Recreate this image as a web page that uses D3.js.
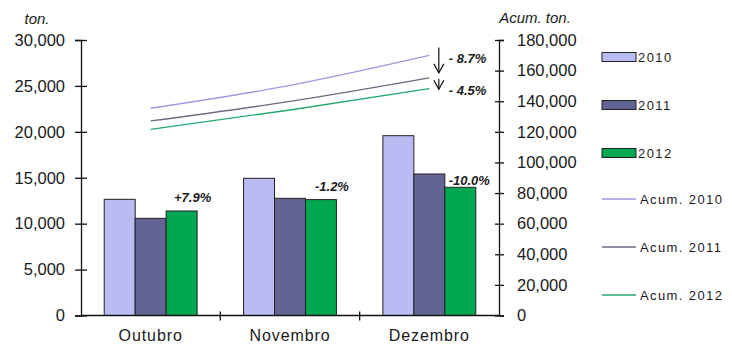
<!DOCTYPE html>
<html>
<head>
<meta charset="utf-8" />
<title>Vendas mensais</title>
<script src="https://d3js.org/d3.v7.min.js"></script>
<style>
  body { margin: 0; background: #fff; }
  text { font-family: "Liberation Sans", Arial, sans-serif; fill: #1a1a1a; }
  .axis path, .axis line { stroke: #111; stroke-width: 1.3; }
</style>
</head>
<body>
<script>
var months = ['Outubro', 'Novembro', 'Dezembro'];
var years = ['2010', '2011', '2012'];
var tons2010 = [12650, 14940, 19580];
var tons2011 = [10580, 12760, 15410];
var tons2012 = [11380, 12620, 13960];
var acum2010 = [135400, 150340, 169900];
var acum2011 = [127100, 139860, 155250];
var acum2012 = [121650, 134270, 148200];
var barNotes = ['+7.9%', '-1.2%', '-10.0%'];
var acumNotes = ['- 8.7%', '- 4.5%'];
var leftTicks = [0, 5000, 10000, 15000, 20000, 25000, 30000];
var rightTicks = [0, 20000, 40000, 60000, 80000, 100000, 120000, 140000, 160000, 180000];

var barColors = ['#BBBBF4', '#636394', '#00A650'];
var lineColors = ['#9a9ae0', '#6a6a80', '#22aa6e'];

var W = 732, H = 345
  , plotL = 81, plotR = 499
  , plotT = 40, plotB = 315.5;

var svg = d3.select('body').append('svg')
  .attr('width', W)
  .attr('height', H);

var x0 = d3.scaleBand().domain(months).range([plotL, plotR]);
var x1 = d3.scaleBand().domain(years).range([0, x0.bandwidth()]).paddingOuter(0.75);
var yL = d3.scaleLinear().domain([0, 30000]).range([plotB, plotT]);
var yR = d3.scaleLinear().domain([0, 180000]).range([plotB, plotT]);

var fmt = d3.format(',d');

// bars
var series = [tons2010, tons2011, tons2012];
series.forEach(function (vals, s) {
  svg.append('g').selectAll('rect')
    .data(vals)
    .enter()
    .append('rect')
    .attr('x', (d, i) => x0(months[i]) + x1(years[s]))
    .attr('y', d => yL(d))
    .attr('width', x1.bandwidth())
    .attr('height', d => plotB - yL(d))
    .style('fill', barColors[s])
    .style('stroke', '#222')
    .style('stroke-width', 1);
});

// accumulated lines
var line = d3.line()
  .x((d, i) => x0(months[i]) + x0.bandwidth() / 2)
  .y(d => yR(d))
  .curve(d3.curveMonotoneX);

[acum2010, acum2011, acum2012].forEach(function (vals, s) {
  svg.append('path')
    .attr('d', line(vals))
    .style('fill', 'none')
    .style('stroke', lineColors[s])
    .style('stroke-width', 1.3);
});

// left axis
var axL = svg.append('g')
  .attr('class', 'axis')
  .attr('transform', `translate(${plotL},0)`)
  .call(d3.axisLeft(yL).tickValues(leftTicks).tickFormat(fmt).tickSizeOuter(0).tickSize(6).tickPadding(10));
axL.selectAll('line').attr('x1', 6).attr('x2', -6);
axL.selectAll('text').style('font-size', '16.5px');

// right axis
var axR = svg.append('g')
  .attr('class', 'axis')
  .attr('transform', `translate(${plotR},0)`)
  .call(d3.axisRight(yR).tickValues(rightTicks).tickFormat(fmt).tickSizeOuter(0).tickSize(5).tickPadding(13));
axR.selectAll('line').attr('x1', -4).attr('x2', 5);
axR.selectAll('text').style('font-size', '16.5px');

// bottom axis
svg.append('line')
  .attr('x1', plotL).attr('x2', plotR)
  .attr('y1', plotB).attr('y2', plotB)
  .style('stroke', '#111').style('stroke-width', 1.3);

var bounds = months.map(m => x0(m)).concat([plotR]);
svg.append('g').selectAll('line')
  .data(bounds.slice(1, 3))
  .enter()
  .append('line')
  .attr('x1', d => d).attr('x2', d => d)
  .attr('y1', plotB - 4).attr('y2', plotB + 5)
  .style('stroke', '#111').style('stroke-width', 1.3);

svg.append('g').selectAll('text')
  .data(months)
  .enter()
  .append('text')
  .attr('x', d => x0(d) + x0.bandwidth() / 2)
  .attr('y', 341)
  .attr('text-anchor', 'middle')
  .style('font-size', '16px')
  .style('letter-spacing', '0.9px')
  .text(d => d);

// axis titles
svg.append('text')
  .attr('x', 37).attr('y', 24)
  .attr('text-anchor', 'middle')
  .style('font-size', '15px').style('font-style', 'italic')
  .text('ton.');

svg.append('text')
  .attr('x', 535).attr('y', 23)
  .attr('text-anchor', 'middle')
  .style('font-size', '15px').style('font-style', 'italic')
  .text('Acum. ton.');

// change notes on 2012 bars
svg.append('g').selectAll('text')
  .data(barNotes)
  .enter()
  .append('text')
  .attr('x', (d, i) => x0(months[i]) + x1('2012') + x1.bandwidth() / 2 + (i == 2 ? 9 : 11))
  .attr('y', (d, i) => yL(tons2012[i]) - (i == 2 ? 2 : 9))
  .attr('text-anchor', 'middle')
  .style('font-size', '13px').style('font-weight', 'bold').style('font-style', 'italic')
  .text(d => d);

// arrows between accumulated totals
var xEnd = x0('Dezembro') + x0.bandwidth() / 2;
var ax = xEnd + 9.5;
var arrows = [[yR(acum2010[2]) - 8, yR(acum2011[2]) - 5], [yR(acum2011[2]) + 1, yR(acum2012[2]) + 0.5]];
arrows.forEach(function (a) {
  var g = svg.append('g').style('stroke', '#111').style('stroke-width', 1.2).style('fill', 'none');
  g.append('line').attr('x1', ax).attr('x2', ax).attr('y1', a[0]).attr('y2', a[1]);
  g.append('path').attr('d', `M${ax - 5},${a[1] - 9}L${ax},${a[1]}L${ax + 5},${a[1] - 9}`);
});

svg.append('g').selectAll('text')
  .data(acumNotes)
  .enter()
  .append('text')
  .attr('x', ax + 10)
  .attr('y', (d, i) => i == 0 ? 63 : 95)
  .style('font-size', '13px').style('font-weight', 'bold').style('font-style', 'italic')
  .text(d => d);

// legend
var lg = svg.append('g').attr('transform', 'translate(602,0)');
years.forEach(function (yr, i) {
  var cy = 57 + i * 48;
  lg.append('rect')
    .attr('x', 0).attr('y', cy - 4.5)
    .attr('width', 34).attr('height', 9)
    .style('fill', barColors[i]).style('stroke', '#222').style('stroke-width', 1);
  lg.append('text')
    .attr('x', 36).attr('y', cy + 5)
    .style('font-size', '13px').style('letter-spacing', '1.4px')
    .text(yr);
});
years.forEach(function (yr, i) {
  var cy = 199 + i * 48;
  lg.append('line')
    .attr('x1', 0).attr('x2', 34)
    .attr('y1', cy).attr('y2', cy)
    .style('stroke', lineColors[i]).style('stroke-width', 1.3);
  lg.append('text')
    .attr('x', 38).attr('y', cy + 5)
    .style('font-size', '13px').style('letter-spacing', '1.4px')
    .text('Acum. ' + yr);
});
</script>
</body>
</html>
